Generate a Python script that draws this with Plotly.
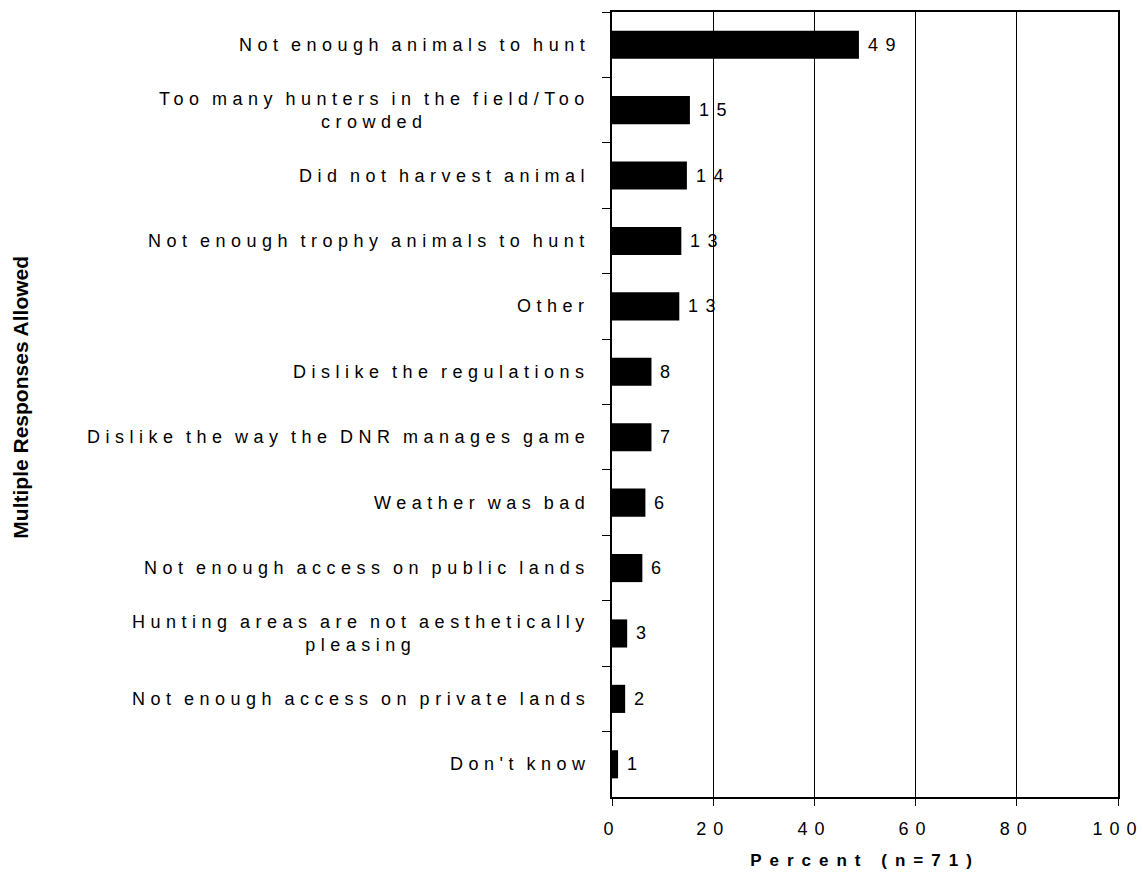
import plotly.graph_objects as go

categories = [
    "Not enough animals to hunt",
    "Too many hunters in the field/Too<br>crowded",
    "Did not harvest animal",
    "Not enough trophy animals to hunt",
    "Other",
    "Dislike the regulations",
    "Dislike the way the DNR manages game",
    "Weather was bad",
    "Not enough access on public lands",
    "Hunting areas are not aesthetically<br>pleasing",
    "Not enough access on private lands",
    "Don't know",
]
values = [48.8, 15.4, 14.8, 13.7, 13.3, 7.8, 7.8, 6.6, 6.0, 3.0, 2.6, 1.2]
value_labels = ["49", "15", "14", "13", "13", "8", "7", "6", "6", "3", "2", "1"]
x_ticks = [0, 20, 40, 60, 80, 100]
x_title = "Percent (n=71)"
y_title = "Multiple Responses Allowed"

FONT = "Liberation Sans, Arial, sans-serif"

fig = go.Figure()
fig.add_trace(go.Bar(
    x=values, y=categories, orientation="h",
    marker=dict(color="black", line=dict(width=0)),
    width=0.43, showlegend=False, hoverinfo="x+y",
))

annotations = []
value_idx = []
for cat, v, lab in zip(categories, values, value_labels):
    value_idx.append(len(annotations))
    annotations.append(dict(
        x=v, y=cat, xref="x", yref="y", text=lab, showarrow=False,
        xanchor="left", yanchor="middle", align="left", xshift=7,
        font=dict(family=FONT, size=18, color="black"),
    ))
    annotations.append(dict(
        x=0, y=cat, xref="x", yref="y", text=cat, showarrow=False,
        xanchor="right", yanchor="middle", align="center", xshift=-20,
        font=dict(family=FONT, size=18, color="black"),
    ))

ytitle_index = len(annotations)
annotations.append(dict(
    x=-1.168, y=0.51, xref="paper", yref="paper", text="<b>" + y_title + "</b>",
    showarrow=False, textangle=-90, xanchor="center", yanchor="middle",
    font=dict(family=FONT, size=21, color="black"),
))

fig.update_layout(
    width=1143, height=877,
    margin=dict(l=612, r=25, t=10, b=80),
    paper_bgcolor="white", plot_bgcolor="white",
    font=dict(family=FONT, size=18, color="black"),
    annotations=annotations,
    xaxis=dict(
        range=[0, 100], tickvals=x_ticks, ticktext=[str(t) for t in x_ticks],
        ticks="outside", ticklen=7, tickcolor="black", tickwidth=1,
        ticklabelstandoff=8,
        showline=True, linecolor="black", linewidth=1.5, mirror=True,
        showgrid=True, gridcolor="black", gridwidth=1, zeroline=False,
        tickfont=dict(family=FONT, size=18, color="black"),
        title=dict(text="<b>" + x_title + "</b>", standoff=16,
                   font=dict(family=FONT, size=17, color="black")),
        fixedrange=True,
    ),
    yaxis=dict(
        type="category", categoryorder="array", categoryarray=categories,
        autorange="reversed", tickson="boundaries",
        ticks="outside", ticklen=8, tickcolor="black", tickwidth=1,
        showticklabels=False, showgrid=False,
        showline=True, linecolor="black", linewidth=1.5, mirror=True,
        zeroline=False, fixedrange=True,
    ),
)

# Wide letter spacing of the original typesetting, applied as CSS, then the
# annotations are re-laid out so that plotly measures the spaced text.
css = "html,body{margin:0;padding:0;overflow:hidden;}"
css += ".annotation-text{letter-spacing:5.5px;word-spacing:-3px;}"
css += "".join('.annotation[data-index=\\"%d\\"] .annotation-text{letter-spacing:7.5px;}' % i
               for i in value_idx)
css += '.annotation[data-index=\\"%d\\"] .annotation-text{letter-spacing:0px;word-spacing:0px;}' % ytitle_index
css += ".xtick text{letter-spacing:7px;}.xtitle{letter-spacing:8px;}"

post_script = """
var gd = document.getElementById('{plot_id}');
var st = document.createElement('style');
st.textContent = "%s";
document.head.appendChild(st);
var anns = JSON.parse(JSON.stringify(gd.layout.annotations));
for (var i = 0; i < anns.length; i++) {
  if (i !== %d) { anns[i].font.size = anns[i].font.size + 0.001; }
}
Plotly.relayout(gd, {annotations: anns});
""" % (css, ytitle_index)

fig.write_html("out.html", post_script=post_script,
               config={"displayModeBar": False, "staticPlot": False})
